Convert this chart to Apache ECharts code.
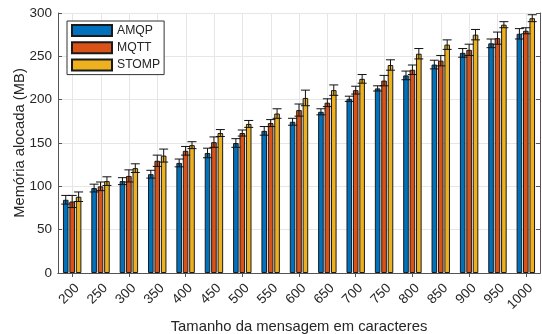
<!DOCTYPE html>
<html>
<head>
<meta charset="utf-8">
<script src="https://cdn.jsdelivr.net/npm/echarts@6/dist/echarts.min.js"></script>
<style>
  html, body { margin: 0; padding: 0; background: #fff; }
  #chart { width: 542px; height: 334px; }
</style>
</head>
<body>
<div id="chart"></div>
<script>
// Message sizes (characters)
const categories = ['200','250','300','350','400','450','500','550','600','650','700','750','800','850','900','950','1000'];

// Mean allocated memory (MB) per protocol
const amqp  = [84.5, 98, 106, 114, 127, 138.5, 150, 164, 174.5, 186, 201, 213, 228, 240.5, 254, 265, 276];
const mqtt  = [82.5, 100, 112, 129.5, 141, 151, 161.5, 173, 188, 196.5, 211, 222, 234.5, 245, 257.5, 271, 279.5];
const stomp = [88, 106, 121, 135.5, 147.5, 161.5, 172, 184, 202, 211, 224, 240, 253, 263.5, 275, 286.5, 294];

// Half-width of the error bars (MB)
const amqpErr  = [5, 4.5, 4, 4.5, 4.5, 5.5, 5, 5, 4, 3.5, 3, 3, 5, 5, 5, 5, 6];
const mqttErr  = [7, 5, 7, 6.5, 5, 6, 3.5, 4, 7, 4.5, 4.5, 6, 5.5, 6, 6.5, 7, 3.5];
const stompErr = [5.5, 5, 5, 7.5, 4, 4, 4, 5.5, 9, 6, 5, 6, 6, 5.5, 6, 3.5, 4];

const yTicks = [0, 50, 100, 150, 200, 250, 300];

const names  = ['AMQP', 'MQTT', 'STOMP'];
const colors = ['#0072BD', '#D95319', '#EDB120'];
const FONT = 'Liberation Sans, Arial, Helvetica, sans-serif';
const GROUP = 0.65;   // share of a category occupied by the bar group
const GAP = 0.15;     // gap between bars, relative to bar width

function barSeries(i, values) {
  return {
    type: 'bar',
    name: names[i],
    data: values,
    xAxisIndex: 0,
    yAxisIndex: 0,
    barCategoryGap: ((1 - GROUP) * 100) + '%',
    barGap: (GAP * 100) + '%',
    itemStyle: { color: colors[i], borderColor: '#1a1a1a', borderWidth: 1 },
    emphasis: { disabled: true },
    z: 2
  };
}

function errorSeries(i, values, errs) {
  return {
    type: 'custom',
    xAxisIndex: 0,
    yAxisIndex: 0,
    data: values.map((v, k) => [k, v - errs[k], v + errs[k]]),
    encode: { x: 0, y: [1, 2] },
    renderItem(params, api) {
      const band = api.size([1, 0])[0];
      const w = band * GROUP / (3 + 2 * GAP);
      const off = (i - 1) * w * (1 + GAP);
      const lo = api.coord([api.value(0), api.value(1)]);
      const hi = api.coord([api.value(0), api.value(2)]);
      const x = lo[0] + off;
      const cap = 4.5;
      const style = { stroke: '#111', lineWidth: 1 };
      return {
        type: 'group',
        children: [
          { type: 'line', shape: { x1: x, y1: lo[1], x2: x, y2: hi[1] }, style },
          { type: 'line', shape: { x1: x - cap, y1: lo[1], x2: x + cap, y2: lo[1] }, style },
          { type: 'line', shape: { x1: x - cap, y1: hi[1], x2: x + cap, y2: hi[1] }, style }
        ]
      };
    },
    z: 5,
    silent: true
  };
}

// Vertical grid lines through each category centre
const gridSeries = {
  type: 'custom',
  xAxisIndex: 0,
  yAxisIndex: 0,
  data: categories.map((c, k) => [k, yTicks[0], yTicks[yTicks.length - 1]]),
  encode: { x: 0, y: [1, 2] },
  renderItem(params, api) {
    const lo = api.coord([api.value(0), api.value(1)]);
    const hi = api.coord([api.value(0), api.value(2)]);
    return {
      type: 'line',
      shape: { x1: Math.round(lo[0]) + 0.5, y1: lo[1], x2: Math.round(lo[0]) + 0.5, y2: hi[1] },
      style: { stroke: '#e6e6e6', lineWidth: 1 }
    };
  },
  z: 0,
  silent: true
};

const axisLineColor = '#555';
const textColor = '#262626';

const chart = echarts.init(document.getElementById('chart'), null, { renderer: 'canvas' });
chart.setOption({
  animation: false,
  backgroundColor: '#fff',
  textStyle: { fontFamily: FONT },
  grid: { left: 58, right: 2, top: 13, bottom: 61, containLabel: false, outerBoundsMode: 'none' },
  legend: {
    data: names,
    orient: 'vertical',
    left: 67,
    top: 21,
    padding: [3, 4, 3, 4],
    itemGap: 4.3,
    itemWidth: 40,
    itemHeight: 11,
    icon: 'rect',
    backgroundColor: '#fff',
    borderColor: '#333',
    borderWidth: 1,
    textStyle: { fontFamily: FONT, fontSize: 12.2, lineHeight: 12, color: textColor }
  },
  xAxis: [
    {
      type: 'category',
      data: categories,
      position: 'bottom',
      name: 'Tamanho da mensagem em caracteres',
      nameLocation: 'middle',
      nameGap: 46,
      nameMoveOverlap: false,
      nameTextStyle: { fontFamily: FONT, fontSize: 14.8, color: textColor },
      axisLine: { show: true, lineStyle: { color: axisLineColor, width: 1 } },
      axisTick: { show: true, inside: true, length: 4, alignWithLabel: true, lineStyle: { color: axisLineColor } },
      axisLabel: { rotate: 45, fontFamily: FONT, fontSize: 13.5, color: textColor, margin: 8, verticalAlign: 'top', interval: 0 },
      splitLine: { show: false }
    },
    {
      type: 'category',
      data: categories,
      position: 'top',
      axisLine: { show: true, lineStyle: { color: axisLineColor, width: 1 } },
      axisTick: { show: true, inside: true, length: 4, alignWithLabel: true, lineStyle: { color: axisLineColor } },
      axisLabel: { show: false },
      splitLine: { show: false }
    }
  ],
  yAxis: [
    {
      type: 'value',
      min: yTicks[0],
      max: yTicks[yTicks.length - 1],
      interval: 50,
      name: 'Memória alocada (MB)',
      nameLocation: 'middle',
      nameGap: 31,
      nameMoveOverlap: false,
      nameTextStyle: { fontFamily: FONT, fontSize: 14.8, color: textColor },
      axisLine: { show: true, lineStyle: { color: axisLineColor, width: 1 } },
      axisTick: { show: true, inside: true, length: 4, lineStyle: { color: axisLineColor } },
      axisLabel: { fontFamily: FONT, fontSize: 13.5, color: textColor, margin: 6 },
      splitLine: { show: true, lineStyle: { color: '#e6e6e6', width: 1 } }
    },
    {
      type: 'value',
      min: yTicks[0],
      max: yTicks[yTicks.length - 1],
      interval: 50,
      position: 'right',
      axisLine: { show: true, lineStyle: { color: axisLineColor, width: 1 } },
      axisTick: { show: true, inside: true, length: 4, lineStyle: { color: axisLineColor } },
      axisLabel: { show: false },
      splitLine: { show: false }
    }
  ],
  series: [
    gridSeries,
    barSeries(0, amqp),
    barSeries(1, mqtt),
    barSeries(2, stomp),
    errorSeries(0, amqp, amqpErr),
    errorSeries(1, mqtt, mqttErr),
    errorSeries(2, stomp, stompErr)
  ]
});
</script>
</body>
</html>
